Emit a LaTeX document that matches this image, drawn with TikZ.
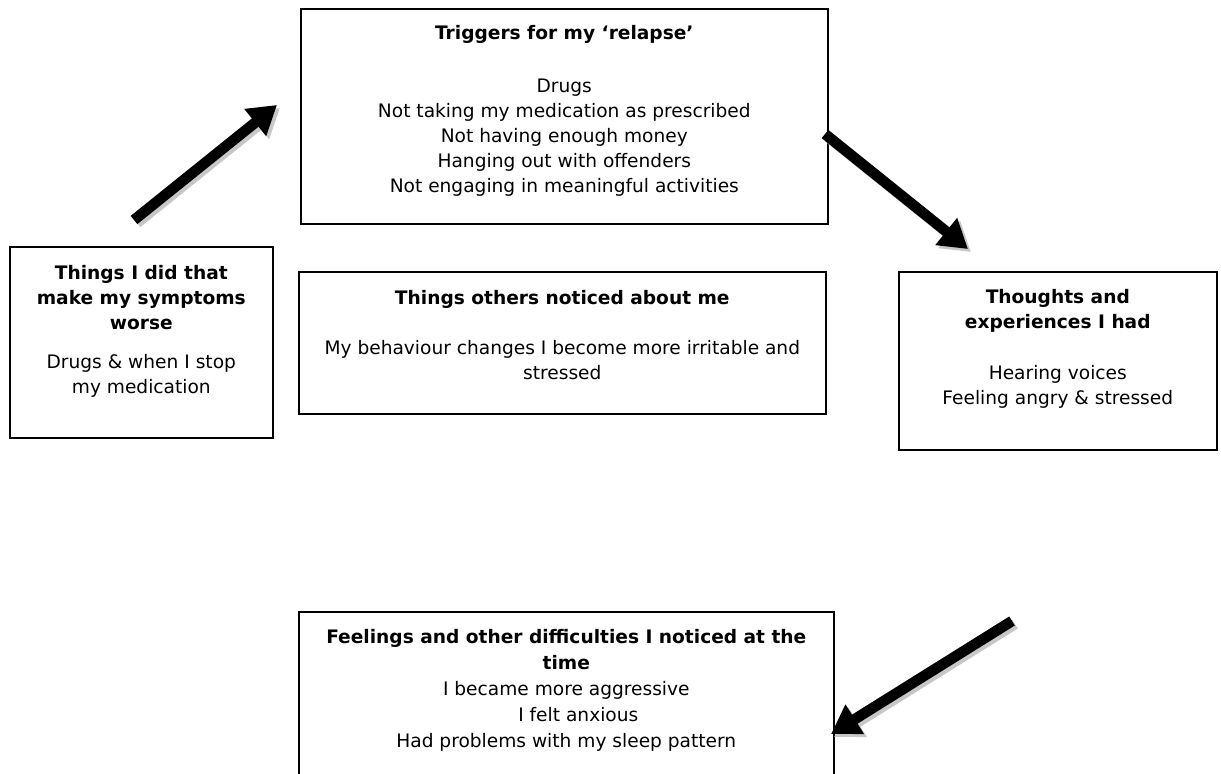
\documentclass[tikz,border=0pt]{standalone}
\usepackage{fontspec}
\setmainfont{DejaVu Sans}
\usetikzlibrary{arrows.meta}

\begin{document}
\begin{tikzpicture}[x=0.5pt,y=-0.5pt,
        box/.style={draw,line width=0.8pt,inner sep=0pt,anchor=north west},
        txt/.style={anchor=north,inner sep=0pt,align=center,font=\fontsize{9.3}{12.5}\selectfont},
        bigarrow/.style={line width=5.3pt,-{Triangle[length=14pt,width=16.5pt]}},
        shadowarrow/.style={bigarrow,draw=black!22,transform canvas={xshift=1.5pt,yshift=-1.5pt}}]
        \useasboundingbox(0,0)rectangle(1221,773);
        \clip(0,0)rectangle(1221,773);
        \node[box,minimum width=263.5pt,minimum height=107.5pt](trig)at(300,8){};
        \node[box,minimum width=131.5pt,minimum height=95.5pt](did)at(9,246){};
        \node[box,minimum width=263.5pt,minimum height=71pt](others)at(298,271){};
        \node[box,minimum width=159pt,minimum height=89pt](thoughts)at(898,271){};
        \node[box,minimum width=267.5pt,minimum height=100pt](feel)at(298,611){};
        \node[txt](trigtxt)at([yshift=-8.5pt]trig.north){\textbf{Triggers for my ‘relapse’}\\[13.75pt]Drugs\\Not taking my medication as prescribed\\Not having enough money\\Hanging out with offenders\\Not engaging in meaningful activities};
        \node[txt](didtxt)at([yshift=-9.5pt]did.north){\textbf{Things I did that}\\\textbf{make my symptoms}\\\textbf{worse}\\[7pt]Drugs \& when I stop\\my medication};
        \node[txt](otherstxt)at([yshift=-9.5pt]others.north){\textbf{Things others noticed about me}\\[12.5pt]My behaviour changes I become more irritable and\\stressed};
        \node[txt](thoughtstxt)at([yshift=-9pt]thoughts.north){\textbf{Thoughts and}\\\textbf{experiences I had}\\[13pt]Hearing voices\\Feeling angry \& stressed};
        \node[txt,font=\fontsize{9.3}{13}\selectfont](feeltxt)at([yshift=-9pt]feel.north){\textbf{Feelings and other difficulties I noticed at the}\\\textbf{time}\\I became more aggressive\\\hspace*{12pt}I felt anxious\\Had problems with my sleep pattern};
        \coordinate(a1s)at(134,220);
        \coordinate(a1e)at(277,105);
        \coordinate(a2s)at(825,134);
        \coordinate(a2e)at(968,249);
        \coordinate(a3s)at(1012,621);
        \coordinate(a3e)at(831,734);
        \draw[shadowarrow](a1s)--(a1e);
        \draw[shadowarrow](a2s)--(a2e);
        \draw[shadowarrow](a3s)--(a3e);
        \draw[bigarrow](a1s)--(a1e);
        \draw[bigarrow](a2s)--(a2e);
        \draw[bigarrow](a3s)--(a3e);
\end{tikzpicture}
\end{document}
